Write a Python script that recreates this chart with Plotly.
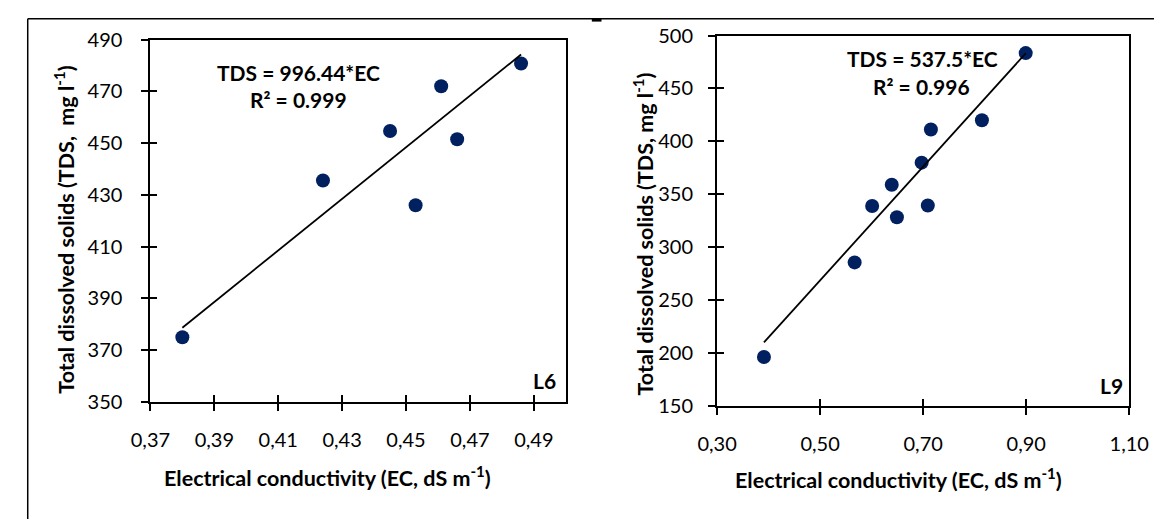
import plotly.graph_objects as go

# ---- data: panel L6 ----
ec_l6 = [0.380, 0.424, 0.445, 0.453, 0.461, 0.466, 0.486]
tds_l6 = [375.0, 435.6, 454.7, 426.0, 472.0, 451.5, 480.8]
slope_l6 = 996.44
r2_l6 = 0.999

# ---- data: panel L9 ----
ec_l9 = [0.391, 0.567, 0.601, 0.639, 0.649, 0.697, 0.709, 0.715, 0.814, 0.899]
tds_l9 = [196.4, 285.7, 339.0, 359.1, 328.4, 379.9, 339.5, 411.2, 419.9, 483.4]
slope_l9 = 537.5
r2_l9 = 0.996

# ---- axis ticks ----
xticks_l6 = [0.37, 0.39, 0.41, 0.43, 0.45, 0.47, 0.49]
xticklabels_l6 = ["0,37", "0,39", "0,41", "0,43", "0,45", "0,47", "0,49"]
yticks_l6 = [350, 370, 390, 410, 430, 450, 470, 490]
xticks_l9 = [0.30, 0.50, 0.70, 0.90, 1.10]
xticklabels_l9 = ["0,30", "0,50", "0,70", "0,90", "1,10"]
yticks_l9 = [150, 200, 250, 300, 350, 400, 450, 500]

NAVY = "#002060"
BLACK = "#000000"
FONT = "Lato"

fig = go.Figure()

def add_panel(ec, tds, slope, xa, ya, xa_in, ya_in):
    fig.add_trace(go.Scatter(x=ec, y=tds, mode="markers",
                             marker=dict(color=NAVY, size=14),
                             xaxis=xa, yaxis=ya, showlegend=False))
    xs = [min(ec), max(ec)]
    fig.add_trace(go.Scatter(x=xs, y=[slope * v for v in xs], mode="lines",
                             line=dict(color=BLACK, width=1.8),
                             xaxis=xa, yaxis=ya, showlegend=False))
    # empty trace on overlay axes (inward half of the crossing tick marks)
    fig.add_trace(go.Scatter(x=[], y=[], xaxis=xa_in, yaxis=ya_in,
                             showlegend=False, hoverinfo="skip"))

add_panel(ec_l6, tds_l6, slope_l6, "x", "y", "x3", "y3")
add_panel(ec_l9, tds_l9, slope_l9, "x2", "y2", "x4", "y4")

tickfont = dict(family=FONT, size=20, color=BLACK)
common = dict(showgrid=False, zeroline=False, showline=True, linecolor=BLACK,
              linewidth=2, ticks="outside", ticklen=7, tickwidth=1.6,
              tickcolor=BLACK, tickfont=tickfont)
inner = dict(ticks="inside", ticklen=7, tickwidth=1.6, tickcolor=BLACK,
             showticklabels=False, showgrid=False, zeroline=False,
             showline=False)

dom_x1 = [0.115, 0.4813]
dom_y1 = [0.2315, 0.9472]
dom_x2 = [0.6147, 0.9782]
dom_y2 = [0.2232, 0.9555]

fig.update_layout(
    width=1174, height=530,
    margin=dict(l=0, r=0, t=0, b=0),
    paper_bgcolor="white", plot_bgcolor="white",
    font=dict(family=FONT, color=BLACK),
    xaxis=dict(domain=dom_x1, range=[0.37, 0.50], anchor="y", mirror=True,
               tickvals=xticks_l6, ticktext=xticklabels_l6,
               ticklabelstandoff=12, **common),
    yaxis=dict(domain=dom_y1, range=[350, 490], anchor="x", mirror=True,
               tickvals=yticks_l6, ticklabelstandoff=15, **common),
    xaxis3=dict(overlaying="x", range=[0.37, 0.50], anchor="y", side="bottom",
                tickvals=xticks_l6, **inner),
    yaxis3=dict(overlaying="y", range=[350, 490], anchor="x", side="left",
                tickvals=yticks_l6, **inner),
    xaxis2=dict(domain=dom_x2, range=[0.30, 1.10], anchor="y2", mirror=True,
                tickvals=xticks_l9, ticktext=xticklabels_l9,
                ticklabelstandoff=12, **common),
    yaxis2=dict(domain=dom_y2, range=[150, 500], anchor="x2", mirror=True,
                tickvals=yticks_l9, ticklabelstandoff=11, **common),
    xaxis4=dict(overlaying="x2", range=[0.30, 1.10], anchor="y2", side="bottom",
                tickvals=xticks_l9, **inner),
    yaxis4=dict(overlaying="y2", range=[150, 500], anchor="x2", side="left",
                tickvals=yticks_l9, **inner),
)

W, H = 1174.0, 530.0
def px(x):
    return x / W
def py(y):
    return 1 - y / H

bold = dict(family=FONT, size=21, color=BLACK, weight="bold")
title_font = dict(family=FONT, size=21.5, color=BLACK, weight="bold")

ann = []
ann.append(dict(text=f"TDS = {slope_l6:.2f}*EC", x=px(288), y=py(62.7)))
ann.append(dict(text=f"R² = {r2_l6:.3f}", x=px(288), y=py(90.7)))
ann.append(dict(text=f"TDS = {slope_l9:.1f}*EC", x=px(934), y=py(47.7)))
ann.append(dict(text=f"R² = {r2_l9:.3f}", x=px(933), y=py(76.7)))
ann.append(dict(text="L6", x=px(543), y=py(385)))
ann.append(dict(text="L9", x=px(1130), y=py(390)))
for a in ann:
    a.update(xref="paper", yref="paper", showarrow=False, font=bold,
             xanchor="center", yanchor="middle")

xt = "Electrical conductivity (EC, dS m<sup>-1</sup>)"
ann.append(dict(text=xt, x=px(318), y=py(486), xref="paper", yref="paper",
                showarrow=False, font=title_font, xanchor="center", yanchor="middle"))
ann.append(dict(text=xt, x=px(909), y=py(488), xref="paper", yref="paper",
                showarrow=False, font=title_font, xanchor="center", yanchor="middle"))
yt1 = "Total dissolved solids (TDS,&nbsp; mg l<sup>-1</sup>)"
yt2 = "Total dissolved solids (TDS, mg l<sup>-1</sup>)"
ann.append(dict(text=yt1, x=px(46.5), y=py(227), xref="paper", yref="paper",
                showarrow=False, font=title_font, textangle=-90,
                xanchor="center", yanchor="middle"))
ann.append(dict(text=yt2, x=px(645), y=py(232), xref="paper", yref="paper",
                showarrow=False, font=title_font, textangle=-90,
                xanchor="center", yanchor="middle"))
fig.update_layout(annotations=ann)

shapes = [
    dict(type="line", xref="paper", yref="paper", x0=px(8), x1=1.0,
         y0=py(6), y1=py(6), line=dict(color=BLACK, width=1.5)),
    dict(type="line", xref="paper", yref="paper", x0=px(8), x1=px(8),
         y0=py(6), y1=0.0, line=dict(color=BLACK, width=1.5)),
    dict(type="rect", xref="paper", yref="paper", x0=px(592), x1=px(602),
         y0=py(9), y1=py(6), fillcolor=BLACK, line=dict(width=0)),
]
fig.update_layout(shapes=shapes)

fig.write_html("out.html")
